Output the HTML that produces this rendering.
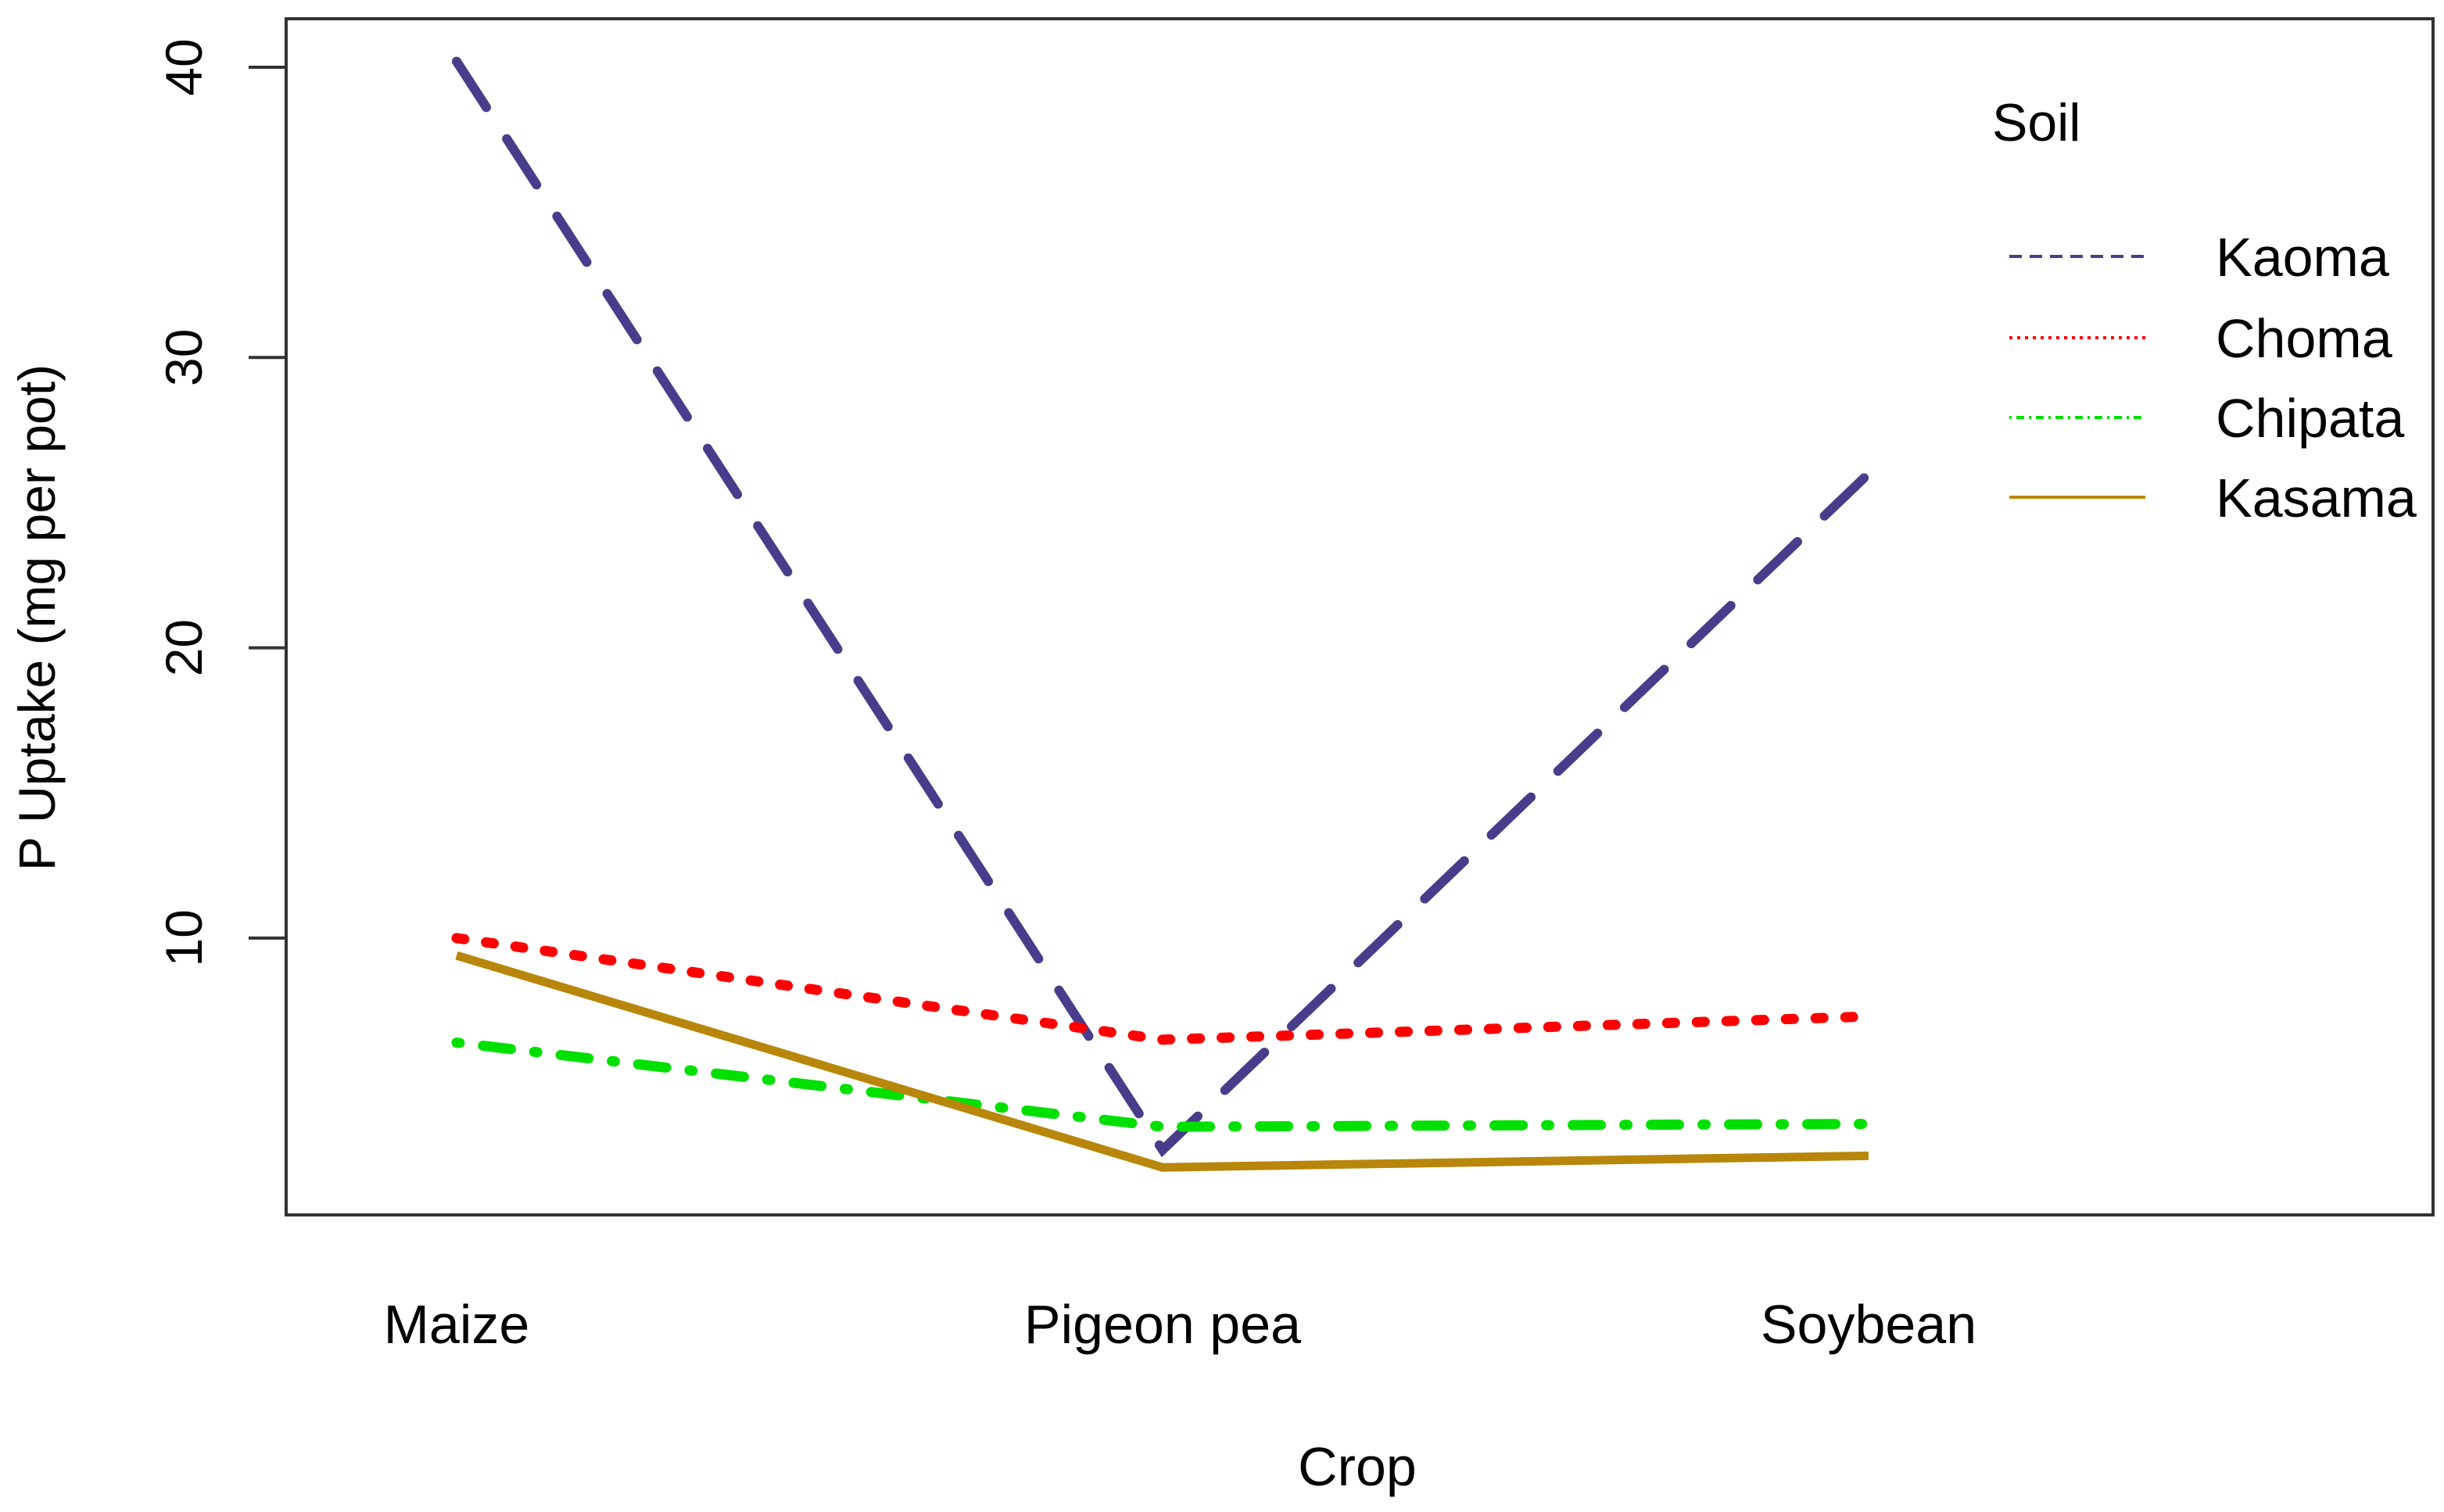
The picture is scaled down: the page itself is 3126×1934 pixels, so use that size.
<!DOCTYPE html>
<html><head><meta charset="utf-8"><style>
html,body{margin:0;padding:0;background:#fff}
svg{display:block}
text{font-family:"Liberation Sans",Arial,sans-serif;fill:#000}
</style></head><body>
<svg id="chart" width="3126" height="1934" viewBox="0 0 3126 1934" xmlns="http://www.w3.org/2000/svg">
<rect x="366" y="24" width="2746" height="1530" fill="none" stroke="#333" stroke-width="4"/>
<g id="yaxis"></g>
<g id="xaxis"></g>
<g id="series"></g>
<text x="0" y="0" font-size="66" text-anchor="middle" transform="translate(70,790) rotate(-90)">P Uptake (mg per pot)</text>
<text x="1736" y="1900" font-size="70" text-anchor="middle">Crop</text>
<g id="legend">
<text x="2548" y="180" font-size="68">Soil</text>
</g>
</svg>
<script>
const categories = ["Maize", "Pigeon pea", "Soybean"];
const soils = ["Kaoma", "Choma", "Chipata", "Kasama"];
const kaoma = [40.2, 2.7, 26.0];
const choma = [10.0, 6.5, 7.3];
const chipata = [6.4, 3.5, 3.6];
const kasama = [9.4, 2.1, 2.5];
const yTicks = [10, 20, 30, 40];

const NS = "http://www.w3.org/2000/svg";
function yScale(v){ return 86 + (40 - v) * 37.13; }
function xScale(i){ return 584 + i * 903; }

const styles = [
  {color:"#483d8b", dash:"70 48", w:12, cap:"round"},
  {color:"#ff0000", dash:"10 28", w:13, cap:"round"},
  {color:"#00e000", dash:"4 30 36 30", w:13, cap:"round"},
  {color:"#b8860b", dash:"", w:11, cap:"butt"}
];
const seriesData = [kaoma, choma, chipata, kasama];

const yax = document.getElementById("yaxis");
yTicks.forEach(t => {
  const y = yScale(t);
  const ln = document.createElementNS(NS, "line");
  
  
  ln.setAttribute("x1", 318); ln.setAttribute("x2", 366);
  ln.setAttribute("y1", y); ln.setAttribute("y2", y);
  ln.setAttribute("stroke", "#333"); ln.setAttribute("stroke-width", 4);
  yax.appendChild(ln);
  const tx = document.createElementNS(NS, "text");
  
  
  tx.setAttribute("font-size", 66);
  tx.setAttribute("text-anchor", "middle");
  tx.setAttribute("transform", "translate(258," + y + ") rotate(-90)");
  tx.textContent = String(t);
  yax.appendChild(tx);
});

const xax = document.getElementById("xaxis");
categories.forEach((c, i) => {
  const tx = document.createElementNS(NS, "text");
  
  
  tx.setAttribute("x", xScale(i)); tx.setAttribute("y", 1718);
  tx.setAttribute("font-size", 70);
  tx.setAttribute("text-anchor", "middle");
  tx.textContent = c;
  xax.appendChild(tx);
});

const sg = document.getElementById("series");
seriesData.forEach((arr, s) => {
  const st = styles[s];
  const pts = arr.map((v, i) => xScale(i) + "," + yScale(v)).join(" ");
  const pl = document.createElementNS(NS, "polyline");
  
  
  pl.setAttribute("points", pts);
  pl.setAttribute("fill", "none");
  pl.setAttribute("stroke", st.color);
  pl.setAttribute("stroke-width", st.w);
  pl.setAttribute("stroke-linecap", st.cap);
  if (st.dash) pl.setAttribute("stroke-dasharray", st.dash);
  sg.appendChild(pl);
});

const lg = document.getElementById("legend");
const legY = [328, 432, 534, 636];
soils.forEach((name, s) => {
  const st = styles[s];
  const ln = document.createElementNS(NS, "line");
  
  
  ln.setAttribute("x1", 2570); ln.setAttribute("x2", 2744);
  ln.setAttribute("y1", legY[s]); ln.setAttribute("y2", legY[s]);
  ln.setAttribute("stroke", st.color);
  ln.setAttribute("stroke-width", 4);
  if (s === 0) ln.setAttribute("stroke-dasharray", "16 10");
  if (s === 1) ln.setAttribute("stroke-dasharray", "4 6");
  if (s === 2) ln.setAttribute("stroke-dasharray", "3 6 10 6");
  lg.appendChild(ln);
  const tx = document.createElementNS(NS, "text");
  
  
  tx.setAttribute("x", 2834); tx.setAttribute("y", legY[s] + 25);
  tx.setAttribute("font-size", 70);
  tx.textContent = name;
  lg.appendChild(tx);
});
</script>
</body></html>
